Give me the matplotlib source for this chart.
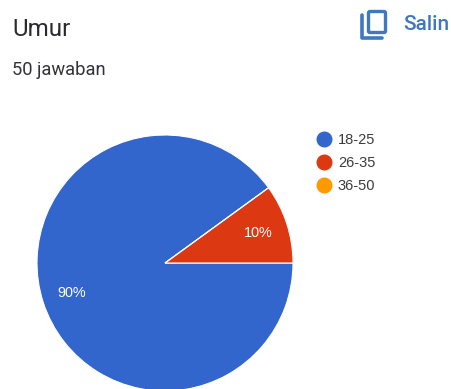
import matplotlib
matplotlib.use("Agg")
import matplotlib.pyplot as plt
from matplotlib.lines import Line2D
from matplotlib.patches import FancyBboxPatch

categories = ["18-25", "26-35", "36-50"]
values = [90, 10, 0]
colors = ["#3366cc", "#dc3912", "#ff9900"]
title = "Umur"
subtitle = "50 jawaban"
action = "Salin"

W, H = 452, 389
plt.rcParams["font.family"] = ["Roboto", "DejaVu Sans"]
fig = plt.figure(figsize=(W / 100, H / 100), dpi=100, facecolor="white")

# Pie, centred low enough that its bottom edge meets the figure edge
cx, cy, r = 165, 263, 128
ax = fig.add_axes([(cx - r) / W, 1 - (cy + r) / H, 2 * r / W, 2 * r / H])
wedges, _, pct = ax.pie(
    values, colors=colors, startangle=36, counterclock=True,
    autopct=lambda p: f"{p:.0f}%" if p > 0 else "", pctdistance=0.77,
    wedgeprops=dict(linewidth=0.8, edgecolor="white"),
    textprops=dict(color="white", fontsize=10.4, family="Liberation Sans"),
)
ax.set_xlim(-1, 1)
ax.set_ylim(-1, 1)
ax.set_aspect("equal")

# Header text
fig.text(12 / W, 1 - 36 / H, title, fontsize=17.4, color="#2b2b2f", ha="left", va="baseline")
fig.text(12 / W, 1 - 75 / H, subtitle, fontsize=13.2, color="#333338", ha="left", va="baseline")
fig.text(403 / W, 1 - 30 / H, action, fontsize=15, color="#3f78c0", ha="left", va="baseline",
         fontweight="medium")

# Copy icon in pixel coordinates
icon = fig.add_axes([0, 0, 1, 1], facecolor="none")
icon.set_xlim(0, W)
icon.set_ylim(H, 0)
icon.axis("off")
icon.add_patch(FancyBboxPatch((368.5, 11.5), 17, 21, boxstyle="round,pad=0,rounding_size=1.5",
                              fill=False, edgecolor="#3f78c0", linewidth=2.4))
icon.plot([362.5, 362.5, 382], [15, 38, 38], color="#3f78c0", linewidth=2.6,
          solid_capstyle="round", solid_joinstyle="round")

# Legend with round markers
handles = [Line2D([], [], linestyle="none", marker="o", markersize=10.5, color=c) for c in colors]
leg = fig.legend(handles, categories, loc="upper left", bbox_to_anchor=(300 / W, 1 - 121 / H),
                 frameon=False, prop=dict(family="Liberation Sans", size=10.5),
                 labelcolor="#3c3c40", handletextpad=0.1, labelspacing=0.64,
                 borderpad=0.3, handlelength=1.7)
fig.savefig("out.png", dpi=100, facecolor="white")
